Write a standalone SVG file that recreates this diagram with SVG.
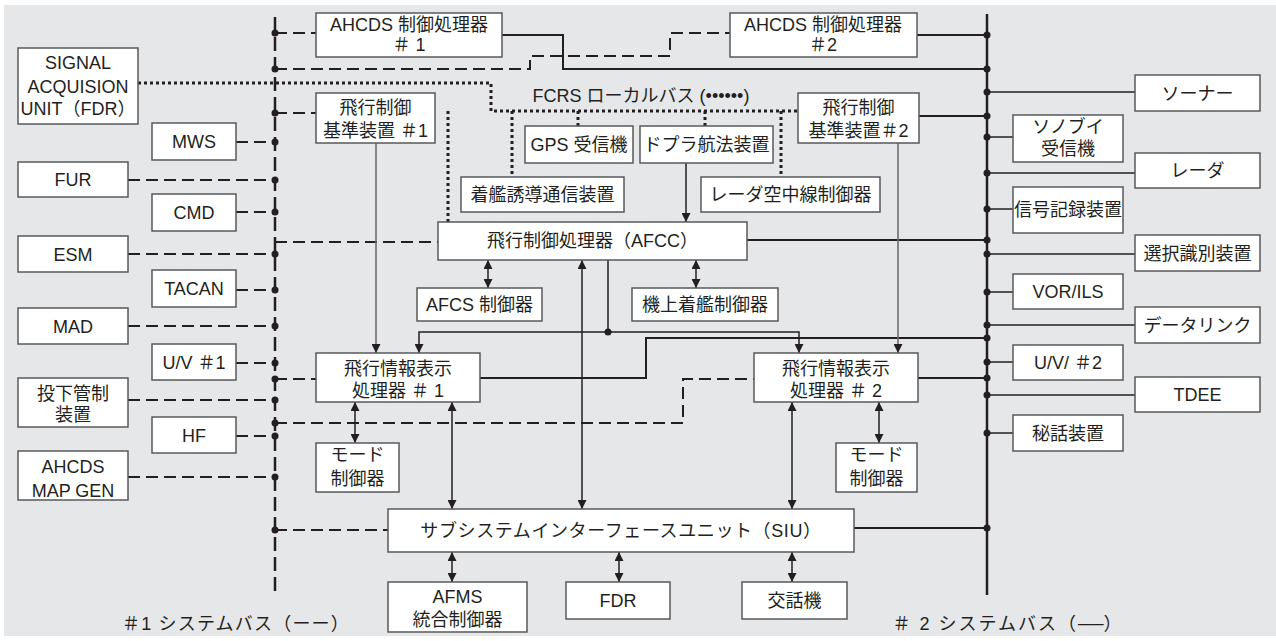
<svg xmlns="http://www.w3.org/2000/svg" width="1276" height="641" viewBox="0 0 1276 641">
<style>
.bg{fill:#e6e7e8}
.box{fill:#fff;stroke:#58595b;stroke-width:1.5}
.t{font-family:"Liberation Sans","Noto Sans CJK JP",sans-serif;font-size:18px;fill:#231f20;text-anchor:middle}
.dash{fill:none;stroke:#231f20;stroke-width:2;stroke-dasharray:12 6}
.bus1{fill:none;stroke:#231f20;stroke-width:2.5;stroke-dasharray:14 6}
.bus2{fill:none;stroke:#231f20;stroke-width:2.5}
.sol{fill:none;stroke:#231f20;stroke-width:2}
.thin{fill:none;stroke:#231f20;stroke-width:1.5}
.gray{fill:none;stroke:#6d6e71;stroke-width:1.6}
.dot{fill:none;stroke:#231f20;stroke-width:3;stroke-dasharray:3 3}
.jn{fill:#231f20}
</style>
<defs>
<marker id="ar" viewBox="0 0 10 10" refX="10" refY="5" markerWidth="9" markerHeight="9" markerUnits="userSpaceOnUse" orient="auto-start-reverse">
<path d="M0,0 L10,5 L0,10 z" fill="#231f20"/>
</marker>
</defs>
<rect class="bg" x="4" y="5" width="1272" height="631"/>

<g id="connectors">
<path class="bus1" d="M275,17 V595"/>
<path class="bus2" d="M987,14 V595"/>
<path class="dash" d="M275,33 H316"/>
<path class="dash" d="M275,69 H530 V56 H670 V33 H730"/>
<path class="dash" d="M275,113 H316"/>
<path class="dash" d="M236,142 H275"/>
<path class="dash" d="M128,180 H275"/>
<path class="dash" d="M236,212 H275"/>
<path class="dash" d="M275,242 H438"/>
<path class="dash" d="M128,254 H275"/>
<path class="dash" d="M236,290 H275"/>
<path class="dash" d="M128,326 H275"/>
<path class="dash" d="M236,363 H275"/>
<path class="dash" d="M275,379 H316"/>
<path class="dash" d="M128,400 H275"/>
<path class="dash" d="M275,423 H683 V379 H754"/>
<path class="dash" d="M236,436 H275"/>
<path class="dash" d="M128,477 H275"/>
<path class="dash" d="M275,530 H388"/>
<path class="dot" d="M138,83 H491 V111 H798"/>
<path class="dot" d="M448,111 V222"/>
<path class="dot" d="M512,111 V177"/>
<path class="dot" d="M578,111 V126"/>
<path class="dot" d="M705,111 V126"/>
<path class="dot" d="M781,111 V177"/>
<path class="sol" d="M502,35 H563 V69 H987"/>
<path class="sol" d="M917,35 H987"/>
<path class="sol" d="M919,116 H987"/>
<path class="sol" d="M747,240 H987"/>
<path class="sol" d="M480,378 H646 V338 H987"/>
<path class="sol" d="M918,378 H987"/>
<path class="sol" d="M854,528 H987"/>
<path class="thin" d="M987,92 H1135"/>
<path class="thin" d="M987,137 H1013"/>
<path class="thin" d="M987,173 H1135"/>
<path class="thin" d="M987,209 H1013"/>
<path class="thin" d="M987,254 H1135"/>
<path class="thin" d="M987,292 H1013"/>
<path class="thin" d="M987,325 H1135"/>
<path class="thin" d="M987,362 H1013"/>
<path class="thin" d="M987,395 H1135"/>
<path class="thin" d="M987,433 H1013"/>
<path class="thin" d="M686,163 V222" marker-end="url(#ar)"/>
<path class="gray" d="M376,143 V353" marker-end="url(#ar)"/>
<path class="gray" d="M898,143 V353" marker-end="url(#ar)"/>
<path class="thin" d="M608,260 V332 H419 V353" marker-end="url(#ar)"/>
<path class="thin" d="M608,332 H799 V353" marker-end="url(#ar)"/>
<path class="thin" d="M488,260 V288" marker-start="url(#ar)" marker-end="url(#ar)"/>
<path class="thin" d="M696,260 V288" marker-start="url(#ar)" marker-end="url(#ar)"/>
<path class="thin" d="M582,260 V509" marker-start="url(#ar)" marker-end="url(#ar)"/>
<path class="thin" d="M355,402 V443" marker-start="url(#ar)" marker-end="url(#ar)"/>
<path class="thin" d="M452,402 V509" marker-start="url(#ar)" marker-end="url(#ar)"/>
<path class="thin" d="M792,402 V509" marker-start="url(#ar)" marker-end="url(#ar)"/>
<path class="thin" d="M879,402 V443" marker-start="url(#ar)" marker-end="url(#ar)"/>
<path class="thin" d="M452,552 V582" marker-start="url(#ar)" marker-end="url(#ar)"/>
<path class="thin" d="M619,552 V582" marker-start="url(#ar)" marker-end="url(#ar)"/>
<path class="thin" d="M792,552 V582" marker-start="url(#ar)" marker-end="url(#ar)"/>
<g class="jn">
<circle cx="275" cy="33" r="3.5"/><circle cx="275" cy="69" r="3.5"/><circle cx="275" cy="113" r="3.5"/>
<circle cx="275" cy="142" r="3.5"/><circle cx="275" cy="180" r="3.5"/><circle cx="275" cy="212" r="3.5"/>
<circle cx="275" cy="254" r="3.5"/><circle cx="275" cy="290" r="3.5"/><circle cx="275" cy="326" r="3.5"/>
<circle cx="275" cy="363" r="3.5"/><circle cx="275" cy="379" r="3.5"/><circle cx="275" cy="400" r="3.5"/>
<circle cx="275" cy="423" r="3.5"/><circle cx="275" cy="436" r="3.5"/><circle cx="275" cy="477" r="3.5"/>
<circle cx="275" cy="530" r="3.5"/>
<circle cx="987" cy="35" r="3.5"/><circle cx="987" cy="69" r="3.5"/><circle cx="987" cy="92" r="3.5"/>
<circle cx="987" cy="116" r="3.5"/><circle cx="987" cy="137" r="3.5"/><circle cx="987" cy="173" r="3.5"/>
<circle cx="987" cy="209" r="3.5"/><circle cx="987" cy="240" r="3.5"/><circle cx="987" cy="254" r="3.5"/>
<circle cx="987" cy="292" r="3.5"/><circle cx="987" cy="325" r="3.5"/><circle cx="987" cy="338" r="3.5"/>
<circle cx="987" cy="362" r="3.5"/><circle cx="987" cy="378" r="3.5"/><circle cx="987" cy="395" r="3.5"/>
<circle cx="987" cy="433" r="3.5"/><circle cx="987" cy="528" r="3.5"/>
<circle cx="608" cy="332" r="3.5"/>
</g>
</g>

<g id="ahcds1"><rect class="box" x="316" y="13" width="186" height="44"/><text class="t" x="409" y="31">AHCDS 制御処理器</text><text class="t" x="409" y="51">＃ 1</text></g>
<g id="ahcds2"><rect class="box" x="730" y="13" width="187" height="44"/><text class="t" x="823" y="31">AHCDS 制御処理器</text><text class="t" x="823" y="51">＃2</text></g>
<g id="sau"><rect class="box" x="18" y="48" width="120" height="76"/><text class="t" x="78" y="69">SIGNAL</text><text class="t" x="78" y="93">ACQUISION</text><text class="t" x="78" y="115">UNIT（FDR）</text></g>
<g id="fcref1"><rect class="box" x="316" y="93" width="119" height="50"/><text class="t" x="375.5" y="114">飛行制御</text><text class="t" x="375.5" y="137">基準装置 ＃1</text></g>
<g id="fcref2"><rect class="box" x="798" y="93" width="121" height="50"/><text class="t" x="858.5" y="114">飛行制御</text><text class="t" x="858.5" y="137">基準装置＃2</text></g>
<g id="mws"><rect class="box" x="152" y="123" width="84" height="37"/><text class="t" x="194" y="148">MWS</text></g>
<g id="fur"><rect class="box" x="18" y="162" width="110" height="35"/><text class="t" x="73" y="186">FUR</text></g>
<g id="cmd"><rect class="box" x="152" y="194" width="84" height="37"/><text class="t" x="194" y="219">CMD</text></g>
<g id="esm"><rect class="box" x="18" y="236" width="110" height="36"/><text class="t" x="73" y="261">ESM</text></g>
<g id="tacan"><rect class="box" x="152" y="270" width="84" height="37"/><text class="t" x="194" y="295">TACAN</text></g>
<g id="mad"><rect class="box" x="18" y="308" width="110" height="36"/><text class="t" x="73" y="333">MAD</text></g>
<g id="uv1"><rect class="box" x="152" y="344" width="84" height="36"/><text class="t" x="194" y="369">U/V ＃1</text></g>
<g id="toka"><rect class="box" x="18" y="378" width="110" height="49"/><text class="t" x="73" y="400">投下管制</text><text class="t" x="73" y="421">装置</text></g>
<g id="hf"><rect class="box" x="152" y="417" width="84" height="36"/><text class="t" x="194" y="442">HF</text></g>
<g id="mapgen"><rect class="box" x="18" y="451" width="110" height="49"/><text class="t" x="73" y="473">AHCDS</text><text class="t" x="73" y="497">MAP GEN</text></g>

<g id="gps"><rect class="box" x="525" y="126" width="108" height="37"/><text class="t" x="579" y="151">GPS 受信機</text></g>
<g id="doppler"><rect class="box" x="640" y="126" width="133" height="37"/><text class="t" x="706.5" y="151">ドプラ航法装置</text></g>
<g id="chakan"><rect class="box" x="461" y="177" width="163" height="35"/><text class="t" x="542.5" y="201">着艦誘導通信装置</text></g>
<g id="radarant"><rect class="box" x="701" y="177" width="179" height="35"/><text class="t" x="790.5" y="201">レーダ空中線制御器</text></g>
<g id="afcc"><rect class="box" x="438" y="222" width="309" height="38"/><text class="t" x="592.5" y="247">飛行制御処理器（AFCC）</text></g>
<g id="afcs"><rect class="box" x="417" y="288" width="125" height="33"/><text class="t" x="479.5" y="311">AFCS 制御器</text></g>
<g id="kijo"><rect class="box" x="632" y="288" width="146" height="33"/><text class="t" x="705" y="311">機上着艦制御器</text></g>
<g id="fidp1"><rect class="box" x="316" y="353" width="164" height="49"/><text class="t" x="398" y="375">飛行情報表示</text><text class="t" x="398" y="397">処理器 ＃ 1</text></g>
<g id="fidp2"><rect class="box" x="754" y="353" width="164" height="49"/><text class="t" x="836" y="375">飛行情報表示</text><text class="t" x="836" y="397">処理器 ＃ 2</text></g>
<g id="mode1"><rect class="box" x="316" y="443" width="83" height="49"/><text class="t" x="357.5" y="461">モード</text><text class="t" x="357.5" y="485">制御器</text></g>
<g id="mode2"><rect class="box" x="836" y="443" width="81" height="49"/><text class="t" x="876.5" y="461">モード</text><text class="t" x="876.5" y="485">制御器</text></g>
<g id="siu"><rect class="box" x="388" y="509" width="466" height="43"/><text class="t" x="621" y="537" letter-spacing="0.6">サブシステムインターフェースユニット（SIU）</text></g>
<g id="afms"><rect class="box" x="388" y="582" width="139" height="50"/><text class="t" x="457.5" y="603">AFMS</text><text class="t" x="457.5" y="626">統合制御器</text></g>
<g id="fdr"><rect class="box" x="566" y="582" width="104" height="37"/><text class="t" x="618" y="607">FDR</text></g>
<g id="kowaki"><rect class="box" x="742" y="582" width="105" height="37"/><text class="t" x="794.5" y="607">交話機</text></g>

<g id="sonar"><rect class="box" x="1135" y="75" width="125" height="36"/><text class="t" x="1197.5" y="100">ソーナー</text></g>
<g id="sonobuoy"><rect class="box" x="1013" y="115" width="110" height="47"/><text class="t" x="1068" y="133">ソノブイ</text><text class="t" x="1068" y="155">受信機</text></g>
<g id="radar"><rect class="box" x="1135" y="153" width="125" height="35"/><text class="t" x="1197.5" y="177">レーダ</text></g>
<g id="sigrec"><rect class="box" x="1013" y="187" width="110" height="46"/><text class="t" x="1068" y="216">信号記録装置</text></g>
<g id="iff"><rect class="box" x="1135" y="235" width="125" height="36"/><text class="t" x="1197.5" y="260">選択識別装置</text></g>
<g id="vor"><rect class="box" x="1013" y="274" width="110" height="35"/><text class="t" x="1068" y="298">VOR/ILS</text></g>
<g id="datalink"><rect class="box" x="1135" y="307" width="125" height="36"/><text class="t" x="1197.5" y="332">データリンク</text></g>
<g id="uv2"><rect class="box" x="1013" y="345" width="110" height="35"/><text class="t" x="1068" y="369">U/V/ ＃2</text></g>
<g id="tdee"><rect class="box" x="1135" y="377" width="125" height="35"/><text class="t" x="1197.5" y="401">TDEE</text></g>
<g id="hiwa"><rect class="box" x="1013" y="415" width="110" height="36"/><text class="t" x="1068" y="440">秘話装置</text></g>

<g id="labels">
<text class="t" x="641" y="102">FCRS ローカルバス (••••••)</text>
<text class="t" x="236" y="630" letter-spacing="1.2">＃1  システムバス（ーー）</text>
<text class="t" x="1007" y="630"><tspan letter-spacing="2">＃ 2  システムバス（</tspan>──）</text>
</g>
</svg>
